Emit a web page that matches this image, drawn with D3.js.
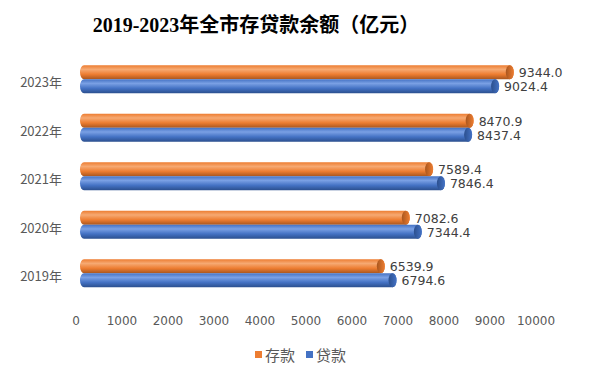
<!DOCTYPE html>
<html><head><meta charset="utf-8">
<script src="https://cdn.jsdelivr.net/npm/d3@7"></script>
<style>body{margin:0;background:#fff}svg{display:block}</style>
</head><body>
<svg id="c" width="595" height="377"></svg>
<script>
const categories = ["2023年","2022年","2021年","2020年","2019年"];
const deposits = [9344.0, 8470.9, 7589.4, 7082.6, 6539.9];
const loans = [9024.4, 8437.4, 7846.4, 7344.4, 6794.6];
const seriesNames = ["存款","贷款"];
const xTicks = [0,1000,2000,3000,4000,5000,6000,7000,8000,9000,10000];

const svg = d3.select("#c");
const W = 595, H = 377;
const x = d3.scaleLinear().domain([0,10000]).range([76,536]);
const y = d3.scaleBand().domain(categories).range([55,297.5]);
const colors = {"存款":["#F6A972","#ED7D31","#A9561E"], "贷款":["#7AA0E4","#4472C4","#2B4F8E"]};
const defs = svg.append("defs");
seriesNames.forEach((s,i)=>{
  const g = defs.append("linearGradient").attr("id","g"+i).attr("x1",0).attr("y1",0).attr("x2",0).attr("y2",1);
  const c = colors[s];
  g.append("stop").attr("offset","0%").attr("stop-color",c[1]);
  g.append("stop").attr("offset","30%").attr("stop-color",c[0]);
  g.append("stop").attr("offset","65%").attr("stop-color",c[1]);
  g.append("stop").attr("offset","100%").attr("stop-color",c[2]);
  const e = defs.append("linearGradient").attr("id","e"+i).attr("x1",0).attr("y1",0).attr("x2",1).attr("y2",0);
  e.append("stop").attr("offset","0%").attr("stop-color",c[2]);
  e.append("stop").attr("offset","100%").attr("stop-color",c[1]);
});

// title
svg.append("text").attr("x",256).attr("y",32).attr("text-anchor","middle")
  .attr("font-family","'Liberation Serif','Noto Sans CJK SC',serif").attr("font-weight","600")
  .attr("font-size",20).attr("fill","#000").text("2019-2023年全市存贷款余额（亿元）");

// category labels
svg.selectAll(".cat").data(categories).join("text")
  .attr("x",62).attr("y",d=>y(d)+y.bandwidth()/2+8).attr("text-anchor","end")
  .attr("font-family","'Noto Sans CJK SC','DejaVu Sans',sans-serif").attr("font-size",13).attr("fill","#595959")
  .text(d=>d);

// x tick labels
svg.selectAll(".tick").data(xTicks).join("text")
  .attr("x",d=>x(d)).attr("y",325).attr("text-anchor","middle")
  .attr("font-family","'DejaVu Sans',sans-serif").attr("font-size",12).attr("fill","#595959")
  .text(d=>d);

const bh = 14, rx = 4;
const series = [deposits, loans];
series.forEach((vals,si)=>{
  const gsel = svg.append("g");
  vals.forEach((v,i)=>{
    const cy = y(categories[i]) + y.bandwidth()/2;
    const top = si===0 ? cy - bh : cy;
    const x0 = x(0)+4+rx, x1 = x(v)+4;
    const p = `M${x0},${top} L${x1},${top} A${rx},${bh/2} 0 0 1 ${x1},${top+bh} L${x0},${top+bh} A${rx},${bh/2} 0 0 1 ${x0},${top} Z`;
    gsel.append("path").attr("d",p).attr("fill",`url(#g${si})`);
    gsel.append("ellipse").attr("cx",x1).attr("cy",top+bh/2).attr("rx",rx).attr("ry",bh/2)
      .attr("fill",`url(#e${si})`);
    gsel.append("text").attr("x",x1+rx+5).attr("y",top+bh/2+5)
      .attr("font-family","'DejaVu Sans',sans-serif").attr("font-size",12.5).attr("fill","#404040")
      .text(v.toFixed(1));
  });
});

// legend
const leg = svg.append("g");
const legX = [255, 306];
seriesNames.forEach((s,i)=>{
  leg.append("rect").attr("x",legX[i]).attr("y",351).attr("width",7).attr("height",7).attr("fill",colors[s][1]);
  leg.append("text").attr("x",legX[i]+10).attr("y",360.5)
    .attr("font-family","'Noto Sans CJK SC',sans-serif").attr("font-size",15).attr("fill","#595959").text(s);
});
</script>
</body></html>
